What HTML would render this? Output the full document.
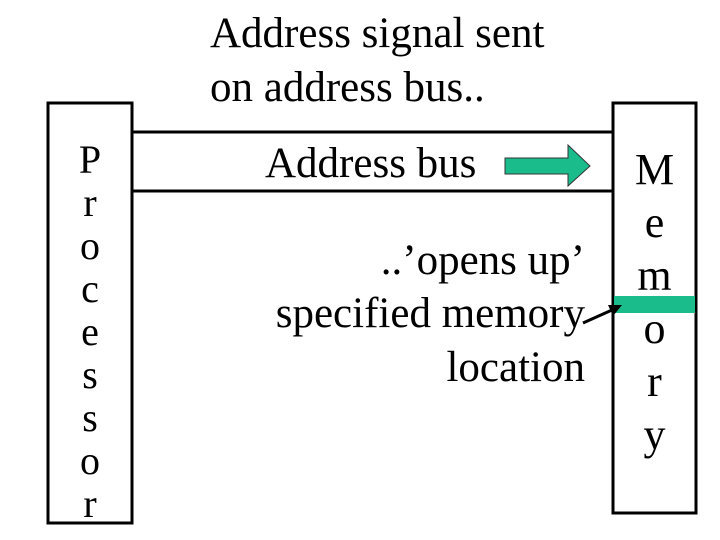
<!DOCTYPE html>
<html><head><style>
body{margin:0;background:#fff;}
#c{position:relative;width:720px;height:540px;overflow:hidden;font-family:"Liberation Serif",serif;color:#000;}
.t{position:absolute;white-space:nowrap;line-height:1;}
</style></head><body><div id="c">
<svg width="720" height="540" style="position:absolute;left:0;top:0">
<rect x="48" y="103" width="84" height="420" fill="none" stroke="#000" stroke-width="3"/>
<rect x="613" y="103" width="83" height="410" fill="none" stroke="#000" stroke-width="3"/>
<rect x="614" y="296" width="81" height="17" fill="#1abc8c"/>
<line x1="132" y1="132" x2="613" y2="132" stroke="#000" stroke-width="3"/>
<line x1="132" y1="191" x2="613" y2="191" stroke="#000" stroke-width="3"/>
<polygon points="505,158 568,158 568,145 590,166 568,186 568,174 505,174" fill="#1abc8c" stroke="#333" stroke-width="1"/>
<line x1="583" y1="323" x2="612" y2="310" stroke="#000" stroke-width="3"/>
<polygon points="622,305 608,305 613,316" fill="#000"/>
</svg>
<div class="t" style="left:210px;top:12px;font-size:43px">Address signal sent</div>
<div class="t" style="left:210px;top:66px;font-size:43px">on address bus..</div>
<div class="t" style="left:265px;top:142px;font-size:43px">Address bus</div>
<div class="t" style="right:135px;top:239px;font-size:43px">..’opens up’</div>
<div class="t" style="right:135px;top:292px;font-size:43px">specified memory</div>
<div class="t" style="right:135px;top:346px;font-size:43px">location</div>
<div class="t" style="left:48px;width:84px;top:138px;font-size:40px;text-align:center;line-height:43px">P<br>r<br>o<br>c<br>e<br>s<br>s<br>o<br>r</div>
<div class="t" style="left:613px;width:83px;top:143px;font-size:44px;text-align:center;line-height:53px">M<br>e<br>m<br>o<br>r<br>y</div>
</div></body></html>
